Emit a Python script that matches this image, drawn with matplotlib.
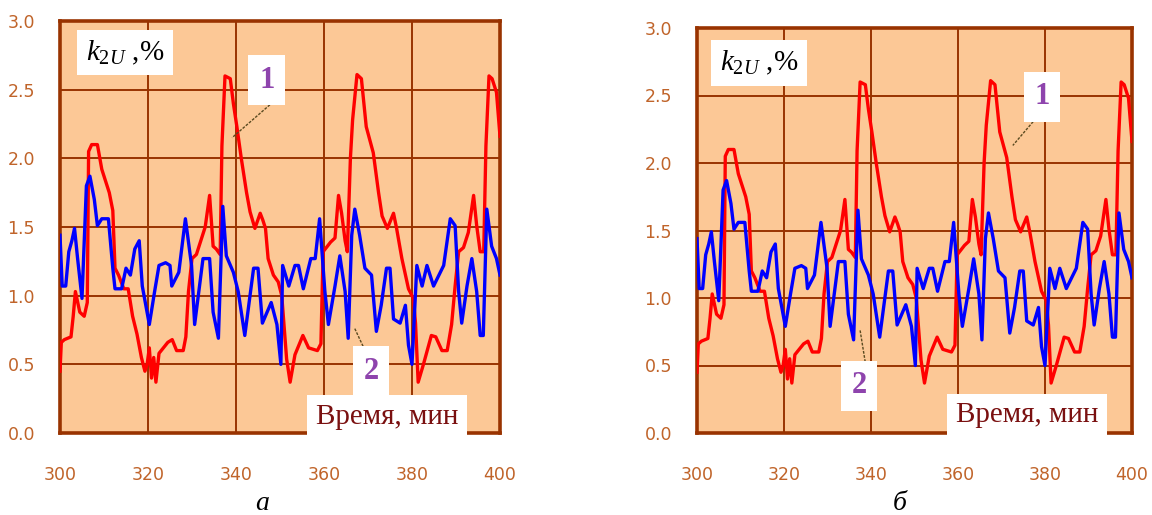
import numpy as np
import matplotlib
matplotlib.use('Agg')
import matplotlib.pyplot as plt

plt.rcParams['mathtext.fontset'] = 'custom'
plt.rcParams['mathtext.it'] = 'Liberation Serif:italic'
plt.rcParams['mathtext.rm'] = 'Liberation Serif'

# кривая 1 (красная)
t_red = [300.0, 300.3, 301.0, 302.5, 303.0, 303.5, 304.5, 305.5, 306.2, 306.5,
         307.2, 308.5, 309.5, 310.5, 311.2, 312.0, 312.5, 313.3, 314.5, 315.5,
         316.5, 317.5, 318.5, 319.3, 319.8, 320.3, 320.8, 321.3, 321.8, 322.5,
         323.5, 324.5, 325.5, 326.5, 328.0, 328.6, 329.2, 330.0, 331.0, 332.0,
         333.0, 334.0, 334.8, 335.5, 336.4, 336.8, 337.5, 338.7, 339.4, 340.2,
         341.2, 342.4, 343.2, 344.3, 345.5, 346.1, 346.7, 347.3, 348.5, 349.6,
         350.4, 351.5, 352.3, 353.4, 355.2, 356.5, 358.5, 359.3, 359.8, 361.5,
         362.5, 363.3, 364.0, 364.8, 365.3, 366.0, 366.5, 367.5, 368.5, 369.6,
         371.2, 372.4, 373.2, 374.4, 375.8, 376.5, 377.7, 379.2, 380.3, 380.8,
         381.4, 382.6, 384.4, 385.4, 386.8, 388.0, 389.0, 389.8, 390.6, 391.7,
         392.8, 394.0, 394.7, 395.5, 396.3, 396.8, 397.5, 398.2, 399.2, 400.0]
red = [0.45, 0.66, 0.68, 0.70, 0.85, 1.03, 0.88, 0.85, 0.95, 2.05,
       2.10, 2.10, 1.92, 1.82, 1.75, 1.62, 1.20, 1.15, 1.05, 1.05,
       0.85, 0.72, 0.55, 0.45, 0.50, 0.62, 0.40, 0.55, 0.37, 0.58,
       0.62, 0.66, 0.68, 0.60, 0.60, 0.70, 1.03, 1.27, 1.30, 1.40,
       1.50, 1.73, 1.36, 1.34, 1.30, 2.09, 2.60, 2.58, 2.40, 2.23,
       2.00, 1.75, 1.61, 1.49, 1.60, 1.55, 1.49, 1.27, 1.15, 1.10,
       1.00, 0.54, 0.37, 0.57, 0.71, 0.62, 0.60, 0.65, 1.32, 1.39,
       1.42, 1.73, 1.60, 1.40, 1.32, 2.00, 2.28, 2.61, 2.58, 2.23,
       2.04, 1.75, 1.58, 1.49, 1.60, 1.49, 1.27, 1.05, 0.98, 0.80,
       0.37, 0.50, 0.71, 0.70, 0.60, 0.60, 0.79, 1.07, 1.32, 1.35,
       1.46, 1.73, 1.51, 1.32, 1.32, 2.09, 2.60, 2.58, 2.48, 2.16]

# кривая 2 (синяя)
t_blue = [300.0, 300.5, 301.3, 302.0, 302.7, 303.3, 304.0, 305.0, 306.0, 306.8,
          307.8, 308.5, 309.5, 311.0, 312.0, 312.5, 314.0, 315.0, 316.0, 317.0,
          318.0, 318.7, 320.3, 321.5, 322.5, 324.0, 325.0, 325.4, 327.0, 328.5,
          329.9, 330.6, 332.5, 334.0, 334.8, 336.0, 337.0, 337.8, 339.4, 340.5,
          342.0, 344.0, 345.0, 346.0, 348.0, 349.3, 350.2, 350.6, 352.0, 353.4,
          354.2, 355.3, 357.0, 358.0, 359.0, 360.2, 361.0, 362.5, 363.6, 364.8,
          365.5, 366.3, 367.0, 368.1, 369.3, 370.8, 371.9, 373.0, 374.2, 375.0,
          375.8, 377.3, 378.5, 379.2, 380.0, 381.1, 382.3, 383.4, 384.9, 387.2,
          388.7, 389.8, 390.6, 391.3, 392.5, 393.6, 394.7, 395.5, 396.2, 397.0,
          398.1, 399.2, 400.0]
blue = [1.44, 1.07, 1.07, 1.32, 1.40, 1.49, 1.27, 0.98, 1.80, 1.87,
        1.70, 1.51, 1.56, 1.56, 1.20, 1.05, 1.05, 1.20, 1.15, 1.34,
        1.40, 1.07, 0.79, 1.03, 1.22, 1.24, 1.22, 1.07, 1.17, 1.56,
        1.22, 0.79, 1.27, 1.27, 0.88, 0.69, 1.65, 1.29, 1.17, 1.03,
        0.71, 1.20, 1.20, 0.80, 0.95, 0.79, 0.50, 1.22, 1.07, 1.22,
        1.22, 1.05, 1.27, 1.27, 1.56, 1.03, 0.79, 1.07, 1.29, 1.03,
        0.69, 1.44, 1.63, 1.44, 1.20, 1.15, 0.74, 0.93, 1.20, 1.20,
        0.83, 0.80, 0.93, 0.64, 0.50, 1.22, 1.07, 1.22, 1.07, 1.22,
        1.56, 1.51, 1.03, 0.80, 1.07, 1.27, 1.03, 0.71, 0.71, 1.63,
        1.36, 1.27, 1.15]

x_ticks = [300, 320, 340, 360, 380, 400]
y_ticks = [0.0, 0.5, 1.0, 1.5, 2.0, 2.5, 3.0]

bg = '#FCC896'
brown = '#993300'
tick_col = '#C0642A'
label_col = '#8E44AD'
serif = 'Liberation Serif'

fig = plt.figure(figsize=(11.52, 5.15), dpi=100)

# положение панелей и подписей (в пикселях) для а и б
panels = [
    dict(rect=[60, 21, 500, 433], cap='а', cap_x=262,
         k=(314.8, 2.77), one=(347.0, 2.57), one_line=((347.7, 2.39), (339.1, 2.15)),
         two=(370.7, 0.45), two_line=((367.0, 0.76), (368.9, 0.63)), time=(374.3, 0.12)),
    dict(rect=[697, 28, 1132, 433], cap='б', cap_x=900,
         k=(314.3, 2.74), one=(379.3, 2.49), one_line=((377.9, 2.33), (372.6, 2.13)),
         two=(337.2, 0.35), two_line=((337.5, 0.76), (338.9, 0.48)), time=(375.9, 0.13)),
]

W, H = 1152, 515
for p in panels:
    x0, y0, x1, y1 = p['rect']
    ax = fig.add_axes([x0 / W, 1 - y1 / H, (x1 - x0) / W, (y1 - y0) / H])
    ax.set_facecolor(bg)
    ax.plot(t_red, red, color='#FF0000', lw=2.4, zorder=3)
    ax.plot(t_blue, blue, color='#0000FF', lw=2.4, zorder=4)
    ax.set_xlim(300, 400)
    ax.set_ylim(0, 3)
    ax.set_xticks(x_ticks)
    ax.set_yticks(y_ticks)
    ax.set_yticklabels([f'{v:.1f}' for v in y_ticks])
    ax.grid(True, color=brown, lw=1.4, zorder=1)
    ax.set_axisbelow(True)
    ax.tick_params(length=0, labelsize=12.5, labelcolor=tick_col)
    ax.tick_params(axis='x', pad=24)
    ax.tick_params(axis='y', pad=18)
    for s in ax.spines.values():
        s.set_color(brown)
        s.set_linewidth(2.6)

    ax.text(*p['k'], r'$k_{2U}$ ,%', fontsize=21, family=serif, ha='center', va='center',
            bbox=dict(facecolor='white', edgecolor='none', boxstyle='square,pad=0.3'),
            zorder=6)
    num_box = dict(facecolor='white', edgecolor='none', boxstyle='square,pad=0.35')
    ax.text(*p['one'], '1', fontsize=22, family=serif, weight='bold', color=label_col,
            ha='center', va='center', bbox=num_box, zorder=6)
    ax.text(*p['two'], '2', fontsize=22, family=serif, weight='bold', color=label_col,
            ha='center', va='center', bbox=num_box, zorder=6)
    (a1, b1), (a2, b2) = p['one_line']
    ax.plot([a1, a2], [b1, b2], color='#5A4A20', lw=1, ls=(0, (2, 1)), zorder=5)
    (a1, b1), (a2, b2) = p['two_line']
    ax.plot([a1, a2], [b1, b2], color='#5A4A20', lw=1, ls=(0, (2, 1)), zorder=5)
    ax.text(*p['time'], 'Время, мин', fontsize=21, family=serif, color='#7A1010',
            ha='center', va='center', clip_on=False, zorder=10,
            bbox=dict(facecolor='white', edgecolor='none', boxstyle='square,pad=0.3'))

    fig.text(p['cap_x'] / W, 1 - 503 / H, p['cap'], fontsize=20, family=serif,
             style='italic', ha='center', va='center')

fig.savefig('out.png', dpi=100)
